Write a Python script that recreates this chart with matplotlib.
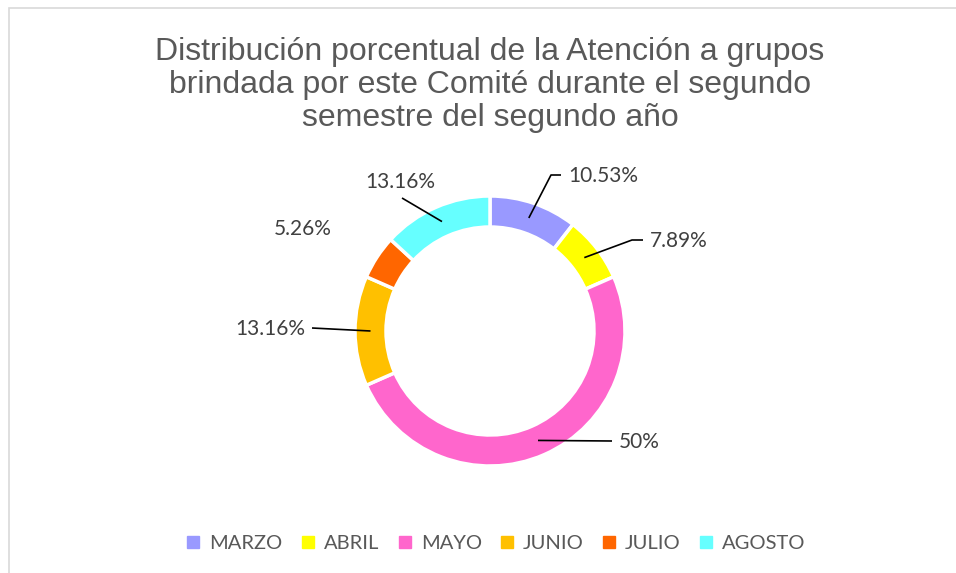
import matplotlib.pyplot as plt
from matplotlib.lines import Line2D
from matplotlib.patches import Rectangle
import numpy as np

# ------------- Data
meses = ["MARZO", "ABRIL", "MAYO", "JUNIO", "JULIO", "AGOSTO"]
porcentajes = [10.53, 7.89, 50, 13.16, 5.26, 13.16]
etiquetas = ["10.53%", "7.89%", "50%", "13.16%", "5.26%", "13.16%"]
colores = ["#9999FF", "#FFFF00", "#FF66CC", "#FFC000", "#FF6600", "#66FFFF"]

titulo = ("Distribución porcentual de la Atención a grupos\n"
          "brindada por este Comité durante el segundo\n"
          "semestre del segundo año")

# ------------- Figure (pixel coords, y up)
W, H = 956, 573
fig = plt.figure(figsize=(W / 100, H / 100), dpi=100, facecolor="white")
ax = fig.add_axes([0, 0, 1, 1])

cx, cy, R, ancho = 490, 242, 135, 31
wedges, _ = ax.pie(porcentajes, colors=colores, startangle=90, counterclock=False,
                   radius=R, center=(cx, cy), frame=True,
                   wedgeprops=dict(width=ancho, edgecolor="white", linewidth=2.5))
ax.set_xlim(0, W)
ax.set_ylim(0, H)
ax.set_aspect("equal")
ax.axis("off")

# chart frame
ax.add_patch(Rectangle((9.5, -5), W, H - 7.5 + 5, fill=False,
                       edgecolor="#D9D9D9", lw=1.2))

# ------------- Data labels with leader lines (layout positions)
# (elbow, end of line, text position, alignment)
layout = [
    ((551, 398), (561, 398), (568, 397), "left"),
    ((632, 333), (643, 333), (650, 332), "left"),
    (None, (612, 132), (619, 131), "left"),
    (None, (312, 245), (305, 244), "right"),
    (None, None, (303, 344), "center"),
    (None, (402, 375), (400, 391), "center"),
]

cum = np.cumsum([0] + porcentajes)
rmid = R - ancho / 2
for i, (elbow, end, txt, ha) in enumerate(layout):
    mid = (cum[i] + cum[i + 1]) / 2
    ang = np.deg2rad(90 - mid / 100 * 360)
    sx, sy = cx + rmid * np.cos(ang), cy + rmid * np.sin(ang)
    if end is not None:
        xs, ys = [sx], [sy]
        if elbow is not None:
            xs.append(elbow[0]); ys.append(elbow[1])
        xs.append(end[0]); ys.append(end[1])
        ax.plot(xs, ys, color="black", lw=1.2, solid_capstyle="butt")
    ax.text(txt[0], txt[1], etiquetas[i], ha=ha, va="center", fontsize=15,
            color="#404040", family=["Lato", "DejaVu Sans"])

# ------------- Title
ax.text(490, 488, titulo, ha="center", va="center", fontsize=23, color="#595959",
        linespacing=1.15, family=["Liberation Sans", "DejaVu Sans"])

# ------------- Legend
handles = [Line2D([], [], marker="s", ls="none", markersize=8, color=c) for c in colores]
fig.legend(handles, meses, loc="center", bbox_to_anchor=(496 / W, 1 - 543 / H), ncol=6,
           frameon=False, handlelength=0.7, handletextpad=0.45, columnspacing=0.9,
           prop=dict(family=["Lato", "DejaVu Sans"], size=14.5), labelcolor="#595959")

fig.savefig("out.png", dpi=100, facecolor="white")
